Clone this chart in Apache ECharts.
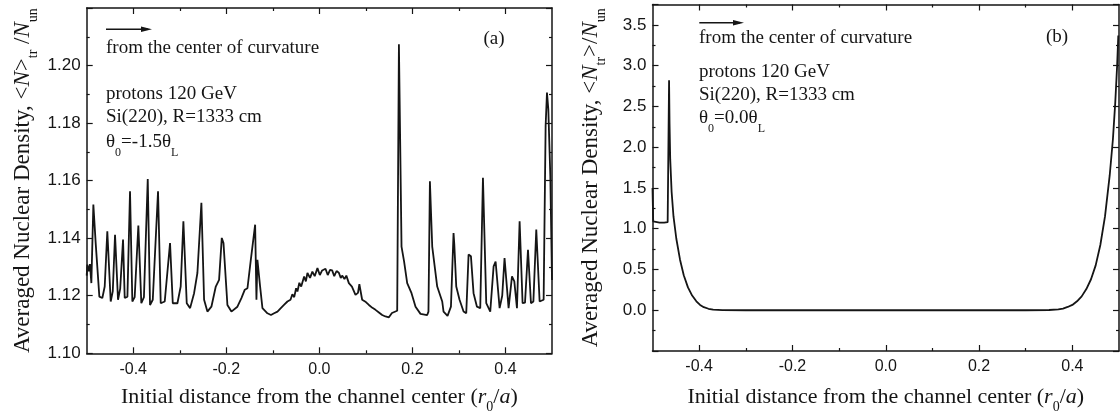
<!DOCTYPE html>
<html><head><meta charset="utf-8">
<script src="https://cdn.jsdelivr.net/npm/echarts@6/dist/echarts.min.js"></script>
<style>html,body{margin:0;padding:0;background:#fff}#c{width:1120px;height:414px}</style>
</head><body><div id="c"></div>
<script>
// ---------------- data: panel (a), theta0 = -1.5 thetaL ----------------
const xA = [-0.5,-0.4986,-0.4955,-0.4930,-0.490,-0.4857,-0.4807,-0.4771,-0.4728,-0.4664,-0.4613,-0.4557,-0.4484,-0.4440,-0.4391,-0.4327,-0.4280,-0.4219,-0.4183,-0.4125,-0.4069,-0.4019,-0.3969,-0.389,-0.3826,-0.3770,-0.3688,-0.3639,-0.3580,-0.3467,-0.3409,-0.3323,-0.3209,-0.315,-0.305,-0.298,-0.2922,-0.285,-0.2778,-0.2692,-0.2621,-0.2535,-0.2477,-0.2406,-0.2320,-0.2226,-0.2155,-0.2097,-0.2060,-0.1976,-0.189,-0.1761,-0.1675,-0.1602,-0.1545,-0.1473,-0.138,-0.1352,-0.1331,-0.1273,-0.1223,-0.1116,-0.1040,-0.0972,-0.0900,-0.0828,-0.0760,-0.0686,-0.0620,-0.0580,-0.0540,-0.0500,-0.0471,-0.0430,-0.0390,-0.0327,-0.0290,-0.0256,-0.0200,-0.0150,-0.0100,-0.0041,0.0010,0.0060,0.0132,0.0180,0.0230,0.0275,0.0320,0.0370,0.0419,0.0460,0.0490,0.0540,0.0580,0.0634,0.0700,0.0777,0.0830,0.0860,0.0884,0.0920,0.1000,0.1065,0.1140,0.1207,0.1280,0.135,0.1420,0.1495,0.1560,0.1602,0.1673,0.1710,0.1766,0.1820,0.1888,0.1981,0.2067,0.2174,0.2318,0.2345,0.2376,0.2426,0.2533,0.2641,0.2669,0.2755,0.2828,0.2884,0.2900,0.2942,0.3013,0.3099,0.3157,0.3207,0.3258,0.3314,0.3387,0.3458,0.3516,0.3587,0.3673,0.3745,0.3788,0.3874,0.3930,0.398,0.4067,0.414,0.419,0.4247,0.4304,0.4368,0.4420,0.4484,0.4548,0.4600,0.4662,0.4734,0.482,0.4863,0.4892,0.4921,0.4964,0.5];
const yA = [1.127,1.1308,1.1285,1.131,1.1244,1.1517,1.1383,1.1379,1.1197,1.1192,1.1232,1.1424,1.118,1.1215,1.1412,1.1186,1.1225,1.1395,1.1192,1.1197,1.1563,1.118,1.1195,1.1444,1.1174,1.1195,1.1606,1.1168,1.1186,1.1563,1.1174,1.118,1.1383,1.1174,1.1174,1.1232,1.1459,1.1174,1.1157,1.1209,1.1279,1.1523,1.1186,1.1145,1.1162,1.1232,1.1255,1.1401,1.1383,1.1168,1.1145,1.1162,1.1192,1.1221,1.1226,1.1325,1.1447,1.1186,1.1325,1.1232,1.1157,1.1139,1.1133,1.1139,1.1145,1.1157,1.1168,1.118,1.1186,1.1205,1.1195,1.1226,1.1215,1.1245,1.1232,1.1267,1.1250,1.1279,1.1262,1.1284,1.1268,1.1296,1.1272,1.1288,1.1294,1.1272,1.1290,1.1288,1.1268,1.1286,1.1280,1.1262,1.1270,1.1258,1.1270,1.1244,1.1232,1.1203,1.1210,1.1240,1.1244,1.1186,1.1178,1.1168,1.1158,1.1151,1.1142,1.1133,1.1128,1.1125,1.1140,1.1145,1.1148,1.2074,1.1371,1.1320,1.1244,1.1209,1.1162,1.1137,1.1133,1.1145,1.1598,1.1371,1.1232,1.118,1.1145,1.113,1.1162,1.1418,1.1380,1.1232,1.1186,1.1145,1.1139,1.1343,1.1337,1.1209,1.1162,1.1157,1.161,1.1174,1.1145,1.1302,1.1319,1.1157,1.1200,1.1331,1.1157,1.1267,1.125,1.1157,1.1459,1.1174,1.1176,1.136,1.1174,1.1180,1.143,1.118,1.1186,1.179,1.1906,1.1848,1.1615,1.1255];

// ---------------- data: panel (b), theta0 = 0.0 thetaL ----------------
const xB = [-0.5,-0.4985,-0.496,-0.485,-0.475,-0.4675,-0.4645,-0.4635,-0.462,-0.459,-0.455,-0.449,-0.441,-0.433,-0.424,-0.415,-0.406,-0.398,-0.39,-0.38,-0.37,-0.35,-0.3,-0.2,-0.1,0,0.1,0.2,0.3,0.35,0.37,0.38,0.39,0.4,0.41,0.42,0.43,0.44,0.45,0.46,0.47,0.48,0.487,0.492,0.496,0.4985];
const yB = [1.50,1.09,1.08,1.075,1.075,1.08,2.82,2.30,1.85,1.45,1.15,0.88,0.62,0.43,0.28,0.18,0.11,0.065,0.037,0.018,0.008,0.002,0,0,0,0,0,0,0,0.003,0.01,0.02,0.04,0.065,0.11,0.17,0.26,0.38,0.55,0.80,1.15,1.65,2.10,2.55,3.00,3.37];

// ---------------- tick labels ----------------
const xMajor = [-0.4,-0.2,0,0.2,0.4];
const xMinor = [-0.3,-0.1,0.1,0.3];
const yTicksA = [1.10,1.12,1.14,1.16,1.18,1.20];
const yTicksB = [0.0,0.5,1.0,1.5,2.0,2.5,3.0,3.5];

const serif = 'Liberation Serif', sans = 'Liberation Sans', ink = '#151515';

function richSet(size, subSize, lh) {
  return {
    m: {fontFamily: serif, fontSize: size, lineHeight: lh, verticalAlign: 'middle', color: ink},
    i: {fontFamily: serif, fontSize: size, lineHeight: lh, verticalAlign: 'middle', fontStyle: 'italic', color: ink},
    s: {fontFamily: serif, fontSize: subSize, verticalAlign: 'bottom', color: ink}
  };
}
const xRich = richSet(22, 14, 34);
const yRich = richSet(23, 14, 36);
const xName = '{m|Initial distance from the channel center (}{i|r}{s|0}{m|/}{i|a}{m|)}';
const yNameA = '{m|Averaged Nuclear Density, <}{i|N}{m|>}{s|tr}{m| /}{i|N}{s|un}';
const yNameB = '{m|Averaged Nuclear Density, <}{i|N}{s|tr}{m|>/}{i|N}{s|un}';

function mkX(gi, position, vals, len, main, nameGap) {
  const labelled = main && position === 'bottom';
  return {
    type: 'value', gridIndex: gi, position, min: -0.5, max: 0.5, interval: 0.1,
    axisLine: {show: main, onZero: false, lineStyle: {color: ink, width: 1.5}},
    axisTick: {show: true, inside: true, length: len, customValues: vals, lineStyle: {color: ink, width: 1.2}},
    axisLabel: {show: labelled, customValues: vals, formatter: v => v.toFixed(1), fontFamily: sans, fontSize: 16, color: ink, margin: 8},
    splitLine: {show: false},
    name: labelled ? xName : '', nameLocation: 'middle', nameGap: nameGap || 30,
    nameTextStyle: {rich: xRich}
  };
}
function mkY(gi, position, min, max, interval, labels, digits, name, nameGap) {
  const left = position === 'left';
  return {
    type: 'value', gridIndex: gi, position, min, max, interval,
    axisLine: {show: true, onZero: false, lineStyle: {color: ink, width: 1.5}},
    axisTick: {show: true, inside: true, length: 6, lineStyle: {color: ink, width: 1.2}},
    minorTick: {show: true, splitNumber: 2, length: 3, lineStyle: {color: ink, width: 1.2}},
    axisLabel: {show: left, fontFamily: sans, fontSize: 17, color: ink, margin: 6,
      formatter: v => labels.some(t => Math.abs(t - v) < 1e-6) ? v.toFixed(digits) : ''},
    splitLine: {show: false}, minorSplitLine: {show: false},
    name: left ? name : '', nameLocation: 'middle', nameGap: nameGap || 30,
    nameTextStyle: {rich: yRich}
  };
}

function txt(x, y, text, size, align) {
  return {type: 'text', x, y, style: {text, fontFamily: serif, fontSize: size || 19, fill: ink,
    align: align || 'left', verticalAlign: 'middle'}};
}
function thetaTxt(x, yTop, text) {
  return {type: 'text', x, y: yTop, style: {text, fill: ink, align: 'left', verticalAlign: 'top',
    rich: {
      m: {fontFamily: serif, fontSize: 19, lineHeight: 34, verticalAlign: 'middle', color: ink},
      s: {fontFamily: serif, fontSize: 12, verticalAlign: 'bottom', color: ink}
    }}};
}
function arrow(x1, x2, y) {
  return {type: 'group', children: [
    {type: 'line', shape: {x1, y1: y, x2: x2 - 4, y2: y}, style: {stroke: ink, lineWidth: 1.6}},
    {type: 'polygon', shape: {points: [[x2, y], [x2 - 11, y - 2.8], [x2 - 11, y + 2.8]]}, style: {fill: ink}}
  ]};
}

const chart = echarts.init(document.getElementById('c'), null, {renderer: 'canvas'});
chart.setOption({
  animation: false,
  backgroundColor: '#fff',
  grid: [
    {left: 86.7, top: 8, width: 465.3, height: 345.3, containLabel: false, outerBoundsMode: 'none'},
    {left: 652.5, top: 4.5, width: 466.5, height: 346.5, containLabel: false, outerBoundsMode: 'none'}
  ],
  xAxis: [
    mkX(0, 'bottom', xMajor, 6, true, 27),
    mkX(0, 'bottom', xMinor, 3, false),
    mkX(0, 'top', xMajor, 6, true),
    mkX(0, 'top', xMinor, 3, false),
    mkX(1, 'bottom', xMajor, 6, true, 29),
    mkX(1, 'bottom', xMinor, 3, false),
    mkX(1, 'top', xMajor, 6, true),
    mkX(1, 'top', xMinor, 3, false)
  ],
  yAxis: [
    mkY(0, 'left', 1.10, 1.22, 0.02, yTicksA, 2, yNameA, 46),
    mkY(0, 'right', 1.10, 1.22, 0.02, yTicksA, 2),
    mkY(1, 'left', -0.5, 3.75, 0.5, yTicksB, 1, yNameB, 44),
    mkY(1, 'right', -0.5, 3.75, 0.5, yTicksB, 1)
  ],
  series: [
    {type: 'line', xAxisIndex: 0, yAxisIndex: 0, data: xA.map((x, i) => [x, yA[i]]),
      symbol: 'none', showSymbol: false, lineStyle: {color: ink, width: 1.8}, clip: true},
    {type: 'line', xAxisIndex: 4, yAxisIndex: 2, data: xB.map((x, i) => [x, yB[i]]),
      symbol: 'none', showSymbol: false, lineStyle: {color: ink, width: 1.8}, clip: true}
  ],
  graphic: [
    arrow(106, 152, 29.3),
    txt(106, 48, 'from the center of curvature'),
    txt(494, 39, '(a)', 19, 'center'),
    txt(106, 93.7, 'protons 120 GeV'),
    txt(106, 116.7, 'Si(220), R=1333 cm'),
    thetaTxt(106, 124.7, '{m|θ}{s|0}{m|=-1.5θ}{s|L}'),
    arrow(699.3, 744, 22.7),
    txt(699, 37.7, 'from the center of curvature'),
    txt(1057, 36.7, '(b)', 19, 'center'),
    txt(699, 72.3, 'protons 120 GeV'),
    txt(699, 95, 'Si(220), R=1333 cm'),
    thetaTxt(699, 101.3, '{m|θ}{s|0}{m|=0.0θ}{s|L}')
  ]
});
</script></body></html>
